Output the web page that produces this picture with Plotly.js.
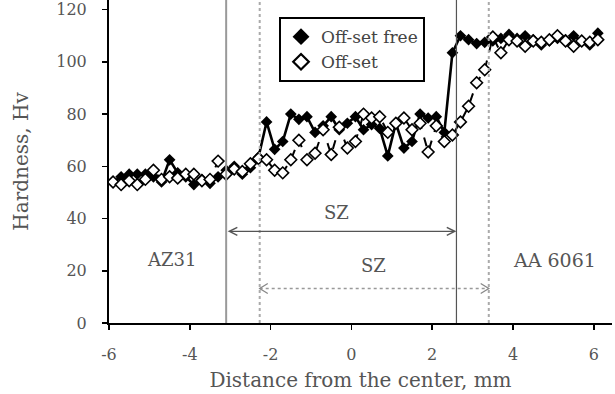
<!DOCTYPE html>
<html>
<head>
<meta charset="utf-8">
<script src="https://cdn.plot.ly/plotly-3.0.1.min.js"></script>
<style>html,body{margin:0;padding:0;background:#fff}#chart{width:615px;height:394px}</style>
</head>
<body>
<div id="chart"></div>
<script>
// Distance from the center (mm)
const distance = [-5.9,-5.7,-5.5,-5.3,-5.1,-4.9,-4.7,-4.5,-4.3,-4.1,-3.9,-3.7,-3.5,-3.3,-3.1,-2.9,-2.7,-2.5,-2.3,-2.1,-1.9,-1.7,-1.5,-1.3,-1.1,-0.9,-0.7,-0.5,-0.3,-0.1,0.1,0.3,0.5,0.7,0.9,1.1,1.3,1.5,1.7,1.9,2.1,2.3,2.5,2.7,2.9,3.1,3.3,3.5,3.7,3.9,4.1,4.3,4.5,4.7,4.9,5.1,5.3,5.5,5.7,5.9,6.1];
// Hardness (Hv), off-set free
const hvOffsetFree = [54,56,57,57,57,56,54,62.5,57.5,56,53,55,53.5,56,58.5,60,57,59.5,63.5,77,66.5,69.5,80,78,79,73,75.5,79,74,76.5,79,74,76,74.5,64,76.5,67,69.5,80,78.5,79,73,103.5,110,108.5,107,107.5,108,109,110.5,109,110,108.5,106.5,108,109,108.5,110,108,106.5,111];
// Hardness (Hv), off-set
const hvOffset = [54,53,54.5,53,55,58.5,55,56,55.5,57,57,54.5,55,62,57,59,58,61,63,62.5,58.5,57.5,62.5,70,62.5,65,74,64.5,75,67,69.5,80,78.5,79,73,76.5,78.5,74,76.5,65.5,75.5,69.5,72,77,83,92,97,109.5,103.5,108.5,108,106,108,107.5,108.5,110,108,106,108,107.5,108.5];
const seriesNames = ["Off-set free", "Off-set"];
const xTickVals = [-6,-4,-2,0,2,4,6];
const xTickText = ["-6","-4","-2","0","2","4","6"];
const yTickVals = [0,20,40,60,80,100,120];
// zone boundaries (mm)
const szFreeBounds = [-3.1, 2.6];
const szOffsetBounds = [-2.27, 3.4];

const serif = "DejaVu Serif, Liberation Serif, serif";
const gray = "#555";

const traces = [
  {x: distance, y: hvOffsetFree, type: "scatter", mode: "lines+markers", showlegend: false,
   line: {color: "#000", width: 2.6}, marker: {symbol: "diamond", size: 9, color: "#000"}},
  {x: distance, y: hvOffset, type: "scatter", mode: "lines+markers", showlegend: false,
   line: {color: "#000", width: 2, dash: "dash"},
   marker: {symbol: "diamond", size: 9, color: "#fff", line: {color: "#000", width: 1.6}}},
  {x: [null], y: [null], type: "scatter", mode: "markers", name: seriesNames[0],
   marker: {symbol: "diamond", size: 13, color: "#000"}},
  {x: [null], y: [null], type: "scatter", mode: "markers", name: seriesNames[1],
   marker: {symbol: "diamond", size: 12, color: "#fff", line: {color: "#000", width: 2.2}}}
];

const dy = 13.2;
const headW = 0.2, headH = 1.9;
const shapes = [
  {type: "line", xref: "x", yref: "paper", x0: szFreeBounds[0], x1: szFreeBounds[0], y0: 0, y1: 1, line: {color: "#999", width: 2}},
  {type: "line", xref: "x", yref: "paper", x0: szFreeBounds[1], x1: szFreeBounds[1], y0: 0, y1: 1, line: {color: "#555", width: 1.2}},
  {type: "line", xref: "x", yref: "paper", x0: szOffsetBounds[0], x1: szOffsetBounds[0], y0: 0, y1: 1, line: {color: "#aaa", width: 2, dash: "dot"}},
  {type: "line", xref: "x", yref: "paper", x0: szOffsetBounds[1], x1: szOffsetBounds[1], y0: 0, y1: 1, line: {color: "#aaa", width: 2, dash: "dot"}},
  {type: "line", xref: "x", yref: "y", x0: szOffsetBounds[0], x1: szOffsetBounds[1], y0: dy, y1: dy, line: {color: "#999", width: 1.5, dash: "dot"}},
  {type: "path", xref: "x", yref: "y", line: {color: "#888", width: 1.3},
   path: "M" + (szOffsetBounds[1] - headW) + "," + (dy + headH) + " L" + szOffsetBounds[1] + "," + dy + " L" + (szOffsetBounds[1] - headW) + "," + (dy - headH)},
  {type: "path", xref: "x", yref: "y", line: {color: "#888", width: 1.3},
   path: "M" + (szOffsetBounds[0] + headW) + "," + (dy + headH) + " L" + szOffsetBounds[0] + "," + dy + " L" + (szOffsetBounds[0] + headW) + "," + (dy - headH)}
];

const txtFont = {family: serif, size: 18, color: gray};
const annotations = [
  {x: szFreeBounds[1], y: 35.1, ax: szFreeBounds[0], ay: 35.1, xref: "x", yref: "y", axref: "x", ayref: "y",
   text: "", showarrow: true, arrowside: "end+start", arrowhead: 5, arrowsize: 1.2, arrowwidth: 1.3, arrowcolor: "#555", standoff: 0, startstandoff: 0},
  {x: -0.37, y: 42.3, xref: "x", yref: "y", text: "SZ", showarrow: false, font: txtFont},
  {x: 0.55, y: 22, xref: "x", yref: "y", text: "SZ", showarrow: false, font: txtFont},
  {x: -4.46, y: 24.3, xref: "x", yref: "y", text: "AZ31", showarrow: false, font: txtFont},
  {x: 5.03, y: 24.3, xref: "x", yref: "y", text: "AA 6061", showarrow: false, font: {family: serif, size: 19, color: gray}}
];

const layout = {
  width: 615, height: 394,
  margin: {l: 109, r: 3, t: 0, b: 71},
  paper_bgcolor: "#fff", plot_bgcolor: "#fff",
  font: {family: serif, color: gray},
  showlegend: true,
  legend: {x: 0.338, y: 0.947, xanchor: "left", yanchor: "top", bgcolor: "#fff", bordercolor: "#000", borderwidth: 2,
    font: {family: serif, size: 17, color: "#444"}, itemwidth: 30, tracegroupgap: 0},
  xaxis: {range: [-6, 6.45], tickvals: xTickVals, ticktext: xTickText, showgrid: false, zeroline: false,
    showline: true, linecolor: "#000", linewidth: 2, ticks: "outside", ticklen: 5, tickwidth: 1.5, tickcolor: "#000",
    tickfont: {family: serif, size: 16, color: gray}, ticklabelstandoff: 11, automargin: false,
    title: {text: "Distance from the center, mm", font: {family: serif, size: 20, color: gray}, standoff: 10}},
  yaxis: {range: [0, 123.7], tickvals: yTickVals, showgrid: false, zeroline: false,
    showline: true, linecolor: "#000", linewidth: 2, ticks: "outside", ticklen: 5, tickwidth: 1.5, tickcolor: "#000",
    tickfont: {family: serif, size: 16, color: gray}, ticklabelstandoff: 12, automargin: false,
    title: {text: "Hardness, Hv", font: {family: serif, size: 20, color: gray}, standoff: 22}},
  shapes: shapes,
  annotations: annotations
};

Plotly.newPlot("chart", traces, layout, {displayModeBar: false, staticPlot: true});
</script>
</body>
</html>
